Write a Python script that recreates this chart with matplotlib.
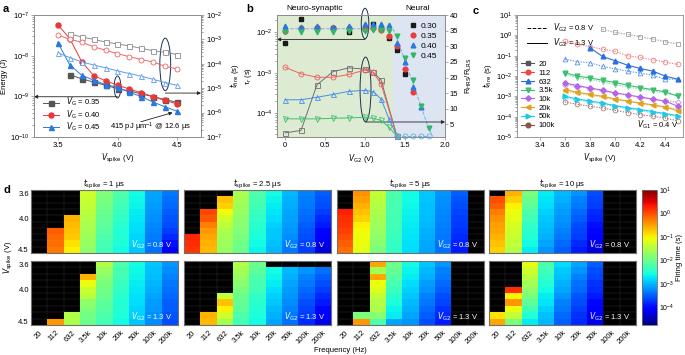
import matplotlib.pyplot as plt
import numpy as np
from matplotlib.colors import LogNorm
from matplotlib.lines import Line2D
from matplotlib.patches import Ellipse

plt.rcParams['font.family'] = ['Liberation Sans', 'DejaVu Sans']
plt.rcParams['font.size'] = 5.5
plt.rcParams['axes.linewidth'] = 0.6
plt.rcParams['axes.edgecolor'] = '#8a8a8a'
plt.rcParams['xtick.major.size'] = 2
plt.rcParams['ytick.major.size'] = 2
plt.rcParams['xtick.minor.size'] = 1.2
plt.rcParams['ytick.minor.size'] = 1.2
plt.rcParams['xtick.major.width'] = 0.5
plt.rcParams['ytick.major.width'] = 0.5
plt.rcParams['xtick.major.pad'] = 1.5
plt.rcParams['ytick.major.pad'] = 1.5
plt.rcParams['xtick.color'] = '#8a8a8a'
plt.rcParams['ytick.color'] = '#8a8a8a'
plt.rcParams['xtick.labelcolor'] = 'black'
plt.rcParams['ytick.labelcolor'] = 'black'
plt.rcParams['mathtext.default'] = 'regular'

# ---- panel a: energy (left) and firing time (right) vs V_spike
a_vg = ['0.35', '0.40', '0.45']
a_x_gray = [3.6, 3.7, 3.8, 3.9, 4.0, 4.1, 4.2, 4.3, 4.4, 4.5]
a_x = [3.5, 3.6, 3.7, 3.8, 3.9, 4.0, 4.1, 4.2, 4.3, 4.4, 4.5]
a_energy_035 = [3.4e-9, 2.7e-9, 2.24e-9, 1.86e-9, 1.55e-9, 1.35e-9, 1.15e-9, 9.8e-10, 8.3e-10, 7.1e-10]
a_energy_040 = [5.75e-8, 2.63e-8, 7.1e-9, 3.24e-9, 2.4e-9, 1.9e-9, 1.5e-9, 1.23e-9, 9.8e-10, 7.9e-10, 6.5e-10]
a_energy_045 = [2.1e-8, 5.9e-9, 3.3e-9, 2.5e-9, 1.95e-9, 1.66e-9, 1.26e-9, 9.8e-10, 7.2e-10, 5.5e-10, 4.3e-10]
a_tfire_035 = [1.66e-3, 1.26e-3, 1.0e-3, 7.8e-4, 6.5e-4, 5.4e-4, 4.3e-4, 3.4e-4, 2.95e-4, 2.4e-4]
a_tfire_040 = [1.5e-3, 1.02e-3, 7.6e-4, 5.0e-4, 3.6e-4, 2.6e-4, 1.95e-4, 1.5e-4, 1.17e-4, 7.9e-5, 6.2e-5]
a_tfire_045 = [2.8e-4, 1.8e-4, 1.2e-4, 8.9e-5, 6.9e-5, 5.1e-5, 4.0e-5, 3.1e-5, 2.3e-5, 1.7e-5, 1.3e-5]

# ---- panel b: tau_r (left, filled) and R_HRS/R_LRS (right, open) vs V_G2
b_vg = ['0.30', '0.35', '0.40', '0.45']
b_x_030 = [0, 0.2, 0.4, 0.6, 0.8, 1.0, 1.1, 1.2, 1.3, 1.4, 1.5]
b_x_035 = [0, 0.2, 0.4, 0.6, 0.8, 1.0, 1.1, 1.2, 1.3, 1.4, 1.5, 1.6]
b_x_040 = [0, 0.2, 0.4, 0.6, 0.8, 1.0, 1.1, 1.2, 1.3, 1.4, 1.5, 1.6, 1.7]
b_x_045 = [0, 0.2, 0.4, 0.6, 0.8, 1.0, 1.1, 1.2, 1.3, 1.4, 1.5, 1.6, 1.7, 1.8]
b_tau_030 = [5.4e-3, 2.1e-2, 1.32e-2, 1.26e-2, 1.05e-2, 1.32e-2, 1.58e-2, 1.26e-2, 7.1e-3, 3.6e-3, 9.5e-4]
b_tau_035 = [1.07e-2, 1.32e-2, 1.32e-2, 1.26e-2, 1.26e-2, 1.2e-2, 1.26e-2, 1.15e-2, 8.3e-3, 4.5e-3, 1.23e-3, 3.4e-4]
b_tau_040 = [1.45e-2, 1.38e-2, 1.45e-2, 1.38e-2, 1.48e-2, 1.66e-2, 1.62e-2, 1.62e-2, 1.51e-2, 5.5e-3, 1.9e-3, 4.4e-4, 1.45e-4]
b_tau_045 = [1.05e-2, 1.0e-2, 1.05e-2, 1.05e-2, 1.07e-2, 1.1e-2, 1.15e-2, 1.15e-2, 1.1e-2, 8.3e-3, 2.4e-3, 6.6e-4, 1.5e-4, 4.3e-5]
b_guide_x = [0, 1.35, 1.4, 1.5, 1.6, 1.7, 1.8, 1.85]
b_guide_tau = [1.23e-2, 1.23e-2, 7e-3, 2e-3, 5.5e-4, 1.5e-4, 4e-5, 2.7e-5]
b_xr = [0, 0.2, 0.4, 0.6, 0.8, 1.0, 1.1, 1.2, 1.4]
b_xr_long = [0, 0.2, 0.4, 0.6, 0.8, 1.0, 1.1, 1.2, 1.3, 1.4]
b_ratio_030 = [2.3, 3.1, 17.7, 21.9, 23.1, 22.7, 21.7, 19.3, 1.2]
b_ratio_035 = [23.3, 21.2, 20.1, 20.1, 21.0, 22.4, 21.7, 18.0, 1.2]
b_ratio_040 = [12.9, 12.9, 13.7, 14.6, 15.6, 15.9, 15.5, 13.2, 6.8, 1.2]
b_ratio_045 = [6.8, 6.8, 6.8, 7.0, 7.1, 7.3, 7.0, 6.3, 4.1, 1.2]
b_tail_x = [1.4, 1.5, 1.6, 1.7, 1.8]
b_tail_ratio = [1.2, 1.2, 1.2, 1.2, 1.2]

# ---- panel c: log10 firing time vs V_spike for input frequencies
c_x = [3.6, 3.7, 3.8, 3.9, 4.0, 4.1, 4.2, 4.3, 4.4, 4.5]
c_freqs = ['20', '112', '632', '3.5k', '10k', '20k', '50k', '100k']
c_20_08 = [0.29, 0.14, 0.05, -0.07, -0.18, -0.32, -0.43]
c_112_08 = [-0.30, -0.43, -0.56, -0.68, -0.79, -1.01, -1.09, -1.20, -1.32, -1.43]
c_632_13 = [-0.61, -1.04, -1.25, -1.47, -1.63, -1.76, -2.01, -2.16]
c_632_08 = [-1.17, -1.29, -1.35, -1.52, -1.65, -1.76, -1.86, -1.96, -2.17, -2.14]
c_3k5_13 = [-1.83, -2.01, -2.09, -2.21, -2.32, -2.45, -2.57, -2.67, -2.78, -3.0]
c_3k5_08 = [-1.91, -2.09, -2.17, -2.29, -2.42, -2.54, -2.63, -2.73, -2.86, -2.95]
c_10k_13 = [-2.34, -2.47, -2.59, -2.70, -2.83, -2.93, -3.03, -3.14, -3.24, -3.49]
c_10k_08 = [-2.42, -2.52, -2.62, -2.73, -2.85, -2.95, -3.05, -3.15, -3.22, -3.28]
c_20k_13 = [-2.67, -2.80, -2.90, -3.00, -3.13, -3.23, -3.33, -3.42, -3.52, -3.72]
c_20k_08 = [-2.75, -2.85, -2.95, -3.05, -3.16, -3.26, -3.36, -3.45, -3.55, -3.60]
c_50k_13 = [-3.0, -3.13, -3.23, -3.33, -3.46, -3.56, -3.65, -3.75, -3.85, -3.95]
c_50k_08 = [-3.08, -3.18, -3.28, -3.38, -3.5, -3.6, -3.7, -3.8, -3.9, -4.0]
c_100k_08 = [-3.28, -3.39, -3.49, -3.57, -3.69, -3.80, -3.90, -3.98, -4.07, -4.21]

# ---- panel d: log10 firing time maps, rows V_spike 3.6..4.5, listed per frequency column
N = np.nan
d_vspike = [3.6, 3.7, 3.8, 3.9, 4.0, 4.1, 4.2, 4.3, 4.4, 4.5]
d_freq_labels = ['20', '112', '632', '3.5k', '10k', '20k', '50k', '100k', '200k']
d_tspike = ['1', '2.5', '5', '10']
d_1us_08 = [
    [N] * 10,
    [N, N, N, N, N, N, -0.1, -0.15, -0.2, -0.25],
    [N, N, N, N, -0.6, -0.65, -0.7, -0.75, -0.9, -1.0],
    [-1.3, -1.35, -1.4, -1.45, -1.5, -1.55, -1.6, -1.65, -1.7, -1.75],
    [-1.85, -1.9, -1.95, -2.0, -2.05, -2.1, -2.15, -2.2, -2.25, -2.3],
    [-2.2, -2.25, -2.3, -2.35, -2.4, -2.45, -2.5, -2.5, -2.55, -2.6],
    [-2.6, -2.63, -2.66, -2.7, -2.73, -2.76, -2.8, -2.83, -2.86, -2.9],
    [-3.1, -3.13, -3.16, -3.2, -3.23, -3.26, -3.3, -3.33, -3.36, -3.4],
    [-3.35, -3.4, -3.45, -3.5, -3.55, -3.6, -3.7, -3.8, -3.95, -4.15],
]
d_2p5us_08 = [
    [N, N, N, N, N, N, N, 0.25, 0.2, 0.15],
    [N, N, N, 0.05, -0.05, -0.3, -0.45, -0.55, -0.6, -0.65],
    [N, -0.7, -0.8, -1.05, -1.3, -1.45, -1.55, -1.6, -1.65, -1.7],
    [-1.55, -1.6, -1.65, -1.7, -1.75, -1.8, -1.85, -1.9, -1.95, -2.0],
    [-2.2, -2.25, -2.3, -2.35, -2.4, -2.45, -2.5, -2.55, -2.6, -2.65],
    [-2.6, -2.65, -2.7, -2.75, -2.8, -2.85, -2.9, -2.9, -2.95, -3.0],
    [-3.0, -3.03, -3.06, -3.1, -3.13, -3.16, -3.2, -3.25, -3.3, -3.35],
    [-3.3, -3.33, -3.36, -3.4, -3.45, -3.5, -3.55, -3.6, -3.65, -3.7],
    [-3.5, -3.55, -3.6, -3.7, -3.8, -3.9, -4.0, -4.1, -4.2, -4.3],
]
d_5us_08 = [
    [N, N, N, 0.3, 0.2, 0.15, 0.1, 0.0, -0.1, -0.2],
    [-0.4, -0.5, -0.6, -0.7, -0.8, -1.0, -1.05, -1.1, -1.1, -1.15],
    [-1.4, -1.45, -1.5, -1.55, -1.6, -1.65, -1.7, -1.75, -1.8, -1.9],
    [-2.2, -2.22, -2.24, -2.26, -2.28, -2.3, -2.32, -2.35, -2.38, -2.4],
    [-2.6, -2.62, -2.64, -2.66, -2.68, -2.7, -2.72, -2.75, -2.78, -2.8],
    [-2.9, -2.92, -2.94, -2.96, -2.98, -3.0, -3.03, -3.06, -3.08, -3.1],
    [-3.2, -3.22, -3.24, -3.26, -3.28, -3.3, -3.33, -3.36, -3.38, -3.4],
    [-3.5, -3.55, -3.6, -3.64, -3.68, -3.72, -3.76, -3.8, -3.85, -3.9],
    [N] * 10,
]
d_10us_08 = [
    [N, 0.0, -0.1, -0.3, -0.4, -0.5, -0.55, -0.6, -0.7, -0.8],
    [-0.6, -0.8, -1.0, -1.1, -1.15, -1.25, -1.3, -1.35, -1.4, -1.5],
    [-1.9, -2.0, -2.1, -2.2, -2.3, -2.4, -2.45, -2.5, -2.6, -2.7],
    [-2.7, -2.75, -2.8, -2.85, -2.9, -2.95, -3.0, -3.05, -3.1, -3.2],
    [-3.0, -3.05, -3.1, -3.15, -3.2, -3.25, -3.3, -3.35, -3.45, -3.5],
    [-3.2, -3.3, -3.35, -3.45, -3.5, -3.6, -3.65, -3.7, -3.8, -3.9],
    [-3.6, -3.65, -3.7, -3.8, -3.85, -3.95, -4.0, -4.1, -4.2, -4.3],
    [N] * 10,
    [N] * 10,
]
d_1us_13 = [
    [N] * 10,
    [N, N, N, N, N, N, N, N, N, -0.45],
    [N, N, N, N, N, N, N, N, -1.5, -1.55],
    [N, N, -0.6, -1.1, -1.35, -1.45, -1.75, -1.85, -1.95, -2.0],
    [-1.5, -1.7, -1.8, -1.9, -1.95, -2.0, -2.1, -2.15, -2.2, -2.3],
    [-2.2, -2.25, -2.3, -2.35, -2.4, -2.45, -2.5, -2.5, -2.55, -2.6],
    [-2.6, -2.63, -2.66, -2.7, -2.73, -2.76, -2.8, -2.83, -2.86, -2.9],
    [-2.9, -2.94, -2.98, -3.02, -3.06, -3.1, -3.14, -3.18, -3.22, -3.25],
    [-3.2, -3.25, -3.3, -3.35, -3.4, -3.45, -3.5, -3.5, -3.55, -3.6],
]
d_2p5us_13 = [
    [N] * 10,
    [N, N, N, N, N, N, N, N, -0.6, -0.65],
    [N, N, N, N, N, -1.4, -0.7, -1.0, -1.3, -1.6],
    [-1.5, -1.6, -1.7, -1.8, -1.9, -2.0, -2.05, -2.1, -2.2, -2.3],
    [-2.0, -2.1, -2.2, -2.25, -2.3, -2.4, -2.45, -2.5, -2.55, -2.6],
    [N, -2.6, -2.65, -2.7, -2.8, -2.85, -2.9, -3.0, -3.05, -3.1],
    [N, -3.0, -3.05, -3.1, -3.15, -3.2, -3.25, -3.3, -3.35, -3.4],
    [N, -3.2, -3.3, -3.35, -3.45, -3.5, -3.6, -3.65, -3.7, -3.8],
    [N, -3.4, -3.5, -3.6, -3.7, -3.8, -3.9, -4.0, -4.1, -4.2],
]
d_5us_13 = [
    [N] * 10,
    [N, N, N, N, N, N, N, N, -1.9, -0.45],
    [-0.55, -1.6, -0.55, -1.1, -1.2, -1.4, -1.5, -1.55, -1.8, -2.2],
    [-1.95, -2.05, -2.15, -2.25, -2.35, -2.45, -2.55, -2.65, -2.7, -3.1],
    [-2.6, -2.65, -2.7, -2.8, -2.85, -2.9, -3.0, -3.05, -3.1, -3.2],
    [-2.9, -3.0, -3.05, -3.15, -3.2, -3.3, -3.35, -3.45, -3.5, -3.6],
    [-3.2, -3.3, -3.35, -3.45, -3.5, -3.6, -3.65, -3.75, -3.8, -3.9],
    [N] * 10,
    [N] * 10,
]
d_10us_13 = [
    [N, N, N, N, N, N, N, N, -0.9, -0.55],
    [N, N, N, N, 0.2, -1.0, -0.45, -1.1, -1.4, -1.9],
    [-1.15, -1.3, -1.45, -1.6, -1.75, -1.9, -2.1, -2.3, -2.5, -2.7],
    [-2.2, -2.3, -2.4, -2.5, -2.6, -2.7, -2.75, -2.85, -2.95, -3.0],
    [-2.8, -2.9, -2.95, -3.05, -3.1, -3.2, -3.3, -3.35, -3.45, -3.5],
    [-3.1, -3.2, -3.3, -3.4, -3.45, -3.55, -3.6, -3.7, -3.75, -3.8],
    [-3.5, -3.6, -3.65, -3.75, -3.8, -3.9, -4.0, -4.05, -4.15, -4.2],
    [N] * 10,
    [N] * 10,
]


def px(l, t, r, b):
    return [l / 685, 1 - b / 355, (r - l) / 685, (b - t) / 355]


def V(sub):
    return r'$\mathit{V}_{\rm ' + sub + '}$'


fig = plt.figure(figsize=(6.85, 3.55), dpi=100)

# ================= a =================
ax = fig.add_axes(px(34, 15, 201, 137))
ax2 = ax.twinx()
ax.set_yscale('log')
ax2.set_yscale('log')
ax.set_xlim(3.3, 4.7)
ax.set_ylim(1e-10, 1e-7)
ax2.set_ylim(1e-7, 1e-2)
a_cols = ['#555555', '#e8393a', '#2a78e4']
a_open = ['#8c8c8c', '#f06464', '#5c9cf0']
mk = ['s', 'o', '^']
a_en = [(a_x_gray, a_energy_035), (a_x, a_energy_040), (a_x, a_energy_045)]
a_tf = [(a_x_gray, a_tfire_035), (a_x, a_tfire_040), (a_x, a_tfire_045)]
for i in range(3):
    ax2.plot(*a_tf[i], marker=mk[i], color=a_open[i], mfc='white', mec=a_open[i],
             ms=3.6, mew=0.6, lw=0.7)
    ax.plot(*a_en[i], marker=mk[i], color=a_cols[i], ms=3.6, lw=0.7,
            label=V('G') + ' = ' + a_vg[i])
ax.set_xticks([3.5, 4.0, 4.5])
ax.set_xticklabels(['3.5', '4.0', '4.5'])
ax.set_xlabel(V('spike') + ' (V)', labelpad=2)
ax.set_ylabel('Energy (J)', labelpad=1)
ax2.set_ylabel(r'$\mathit{t}_{\rm fire}$ (s)', labelpad=4)
ax.legend(loc='lower left', bbox_to_anchor=(0.02, -0.01), frameon=False,
          handlelength=2.2, labelspacing=0.0, borderpad=0.2, fontsize=5.5)
ax.add_patch(Ellipse((0.5, 0.41), 0.04, 0.18, transform=ax.transAxes,
                     fill=False, ec='#1f3050', lw=0.7))
ax.add_patch(Ellipse((0.786, 0.595), 0.065, 0.43, transform=ax.transAxes,
                     fill=False, ec='#1f3050', lw=0.7))
arr = dict(arrowstyle='-|>', lw=0.6, color='#222222', mutation_scale=5,
           shrinkA=0, shrinkB=0)
ax.annotate('', xy=(0.0, 0.33), xytext=(0.5, 0.33), xycoords='axes fraction',
            arrowprops=arr)
ax.annotate('', xy=(1.0, 0.36), xytext=(0.786, 0.36), xycoords='axes fraction',
            arrowprops=arr)
ax.annotate('', xy=(0.83, 0.2), xytext=(0.64, 0.125), xycoords='axes fraction',
            arrowprops=arr)
ax.text(0.70, 0.075, r'415 pJ µm$^{-1}$ @ 12.6 µs', transform=ax.transAxes,
        ha='center', va='center', fontsize=5.5)

# ================= b =================
bx = fig.add_axes(px(277, 15, 445, 137))
bx2 = bx.twinx()
bx.set_xlim(-0.1, 2.0)
bx.set_yscale('log')
bx.set_ylim(2.6e-5, 2.7e-2)
bx2.set_ylim(1, 40)
bx.axvspan(-0.1, 1.35, color='#dcebd2', lw=0, zorder=0)
bx.axvspan(1.35, 2.0, color='#dde5f3', lw=0, zorder=0)
b_cols = ['#1a1a1a', '#ec3c3c', '#2a78e4', '#30b868']
b_open = ['#707070', '#f06060', '#4a8ee8', '#40c070']
b_mk = ['s', 'o', '^', 'v']
bx.plot(b_guide_x, b_guide_tau, ls='--', color='#7ab2e6', lw=0.7, zorder=1)
b_tau = [(b_x_030, b_tau_030), (b_x_035, b_tau_035), (b_x_040, b_tau_040), (b_x_045, b_tau_045)]
for i in range(4):
    bx.plot(*b_tau[i], ls='none', marker=b_mk[i], color=b_cols[i], ms=3.4,
            label=b_vg[i], zorder=3)
b_rat = [(b_xr, b_ratio_030), (b_xr, b_ratio_035), (b_xr_long, b_ratio_040), (b_xr_long, b_ratio_045)]
for i in range(4):
    bx2.plot(*b_rat[i], marker=b_mk[i], color=b_open[i], mfc='none', mec=b_open[i],
             ms=3.6, mew=0.6, lw=0.7, clip_on=False)
bx2.plot(b_tail_x, b_tail_ratio, ls='--', marker='o', color='#6ab0e0', mfc='none',
         ms=3.6, mew=0.6, lw=0.7, clip_on=False)
bx.set_xticks([0, 0.5, 1.0, 1.5, 2.0])
bx.set_xticklabels(['0', '0.5', '1.0', '1.5', '2.0'])
bx.set_xlabel(V('G2') + ' (V)', labelpad=2)
bx.set_ylabel(r'$\tau_{\rm r}$ (s)', labelpad=1)
bx2.set_yticks([5, 10, 15, 20, 25, 30, 35, 40])
bx2.set_ylabel(r'R$_{\rm HRS}$/R$_{\rm LRS}$', labelpad=4)
bx.legend(loc='upper right', bbox_to_anchor=(1.0, 1.0), frameon=False,
          handlelength=0.8, handletextpad=0.5, labelspacing=0.25, fontsize=6)
bx.add_patch(Ellipse((0.524, 0.93), 0.045, 0.25, transform=bx.transAxes,
                     fill=False, ec='#1f3050', lw=0.7, clip_on=False))
bx.add_patch(Ellipse((0.527, 0.39), 0.065, 0.53, transform=bx.transAxes,
                     fill=False, ec='#1f3050', lw=0.7))
bx.annotate('', xy=(0.0, 0.80), xytext=(0.524, 0.80), xycoords='axes fraction',
            arrowprops=arr)
bx.annotate('', xy=(1.0, 0.123), xytext=(0.527, 0.123), xycoords='axes fraction',
            arrowprops=arr)
fig.text(315 / 685, 1 - 8 / 355, 'Neuro-synaptic', ha='center', va='center', fontsize=6)
fig.text(418 / 685, 1 - 8 / 355, 'Neural', ha='center', va='center', fontsize=6)

# ================= c =================
cx = fig.add_axes(px(517, 15, 683, 137))
cx.set_yscale('log')
cx.set_xlim(3.22, 4.54)
cx.set_ylim(1e-5, 1e1)
c_cols = ['#555555', '#f04545', '#2a6fe0', '#3cc070', '#b565e6', '#e0a21c', '#1ec8e6', '#8c5545']
c_open = ['#a0a0a0', '#f28080', '#5c92ea', '#7ad69e', '#c994ee', '#e8bf60', '#6ad8ee', '#a88078']
c_mk = ['s', 'o', '^', 'v', 'D', '<', '>', 'o']
c_08 = [(c_x[3:], c_20_08), (c_x, c_112_08), (c_x, c_632_08), (c_x, c_3k5_08),
        (c_x, c_10k_08), (c_x, c_20k_08), (c_x, c_50k_08), (c_x, c_100k_08)]
c_13 = {2: (c_x[2:], c_632_13), 3: (c_x, c_3k5_13), 4: (c_x, c_10k_13),
        5: (c_x, c_20k_13), 6: (c_x, c_50k_13)}
for i in range(8):
    xs, ys = c_08[i]
    cx.plot(xs, 10 ** np.array(ys), ls=(0, (1.2, 1.2)), marker=c_mk[i], color=c_open[i],
            mfc='none', mec=c_open[i], ms=3.4 if c_mk[i] != 'D' else 2.8, mew=0.6, lw=0.8)
for i, (xs, ys) in c_13.items():
    cx.plot(xs, 10 ** np.array(ys), marker=c_mk[i], color=c_cols[i],
            ms=3.4 if c_mk[i] != 'D' else 2.8, lw=0.8)
cx.set_xticks([3.4, 3.6, 3.8, 4.0, 4.2, 4.4])
cx.set_xticklabels(['3.4', '3.6', '3.8', '4.0', '4.2', '4.4'])
cx.set_yticks([1e-5, 1e-4, 1e-3, 1e-2, 1e-1, 1e0, 1e1])
cx.set_xlabel(V('spike') + ' (V)', labelpad=2)
cx.set_ylabel(r'$\mathit{t}_{\rm fire}$ (s)', labelpad=1)
ls_handles = [Line2D([], [], color='k', ls='--', lw=0.7),
              Line2D([], [], color='k', ls='-', lw=0.7)]
leg1 = cx.legend(ls_handles, [V('G2') + ' = 0.8 V', V('G2') + ' = 1.3 V'],
                 loc='upper left', bbox_to_anchor=(0.02, 1.0), frameon=False,
                 handlelength=2.6, labelspacing=0.3, fontsize=5.5)
cx.add_artist(leg1)
f_handles = [Line2D([], [], color=c_cols[i], marker=c_mk[i],
                    ms=3.4 if c_mk[i] != 'D' else 2.8, lw=0.8) for i in range(8)]
cx.legend(f_handles, c_freqs, loc='lower left', bbox_to_anchor=(-0.01, 0.02),
          frameon=False, handlelength=1.8, labelspacing=0.18, borderpad=0.2,
          handletextpad=0.5, fontsize=5.5)
cx.text(0.97, 0.05, V('G1') + ' = 0.4 V', transform=cx.transAxes, ha='right',
        va='bottom', fontsize=5.5)

# ================= d =================
cmap = plt.get_cmap('jet').copy()
cmap.set_bad((0, 0, 0, 0))
norm = LogNorm(vmin=10 ** -4.76, vmax=10)
d_rows = [[d_1us_08, d_2p5us_08, d_5us_08, d_10us_08],
          [d_1us_13, d_2p5us_13, d_5us_13, d_10us_13]]
d_vg2 = ['0.8', '1.3']
col_left = [31, 184, 337, 489]
row_tb = [(190, 253), (261, 325)]
mesh = None
for r in range(2):
    for c in range(4):
        t, b = row_tb[r]
        hx = fig.add_axes(px(col_left[c], t, col_left[c] + 147, b))
        hx.set_facecolor('black')
        vals = np.ma.masked_invalid(10 ** np.array(d_rows[r][c]).T)
        hx.hlines(np.arange(1, 10), 0, 9, color='#2e2e2e', lw=0.35, zorder=0.5)
        hx.vlines(np.arange(1, 9), 0, 10, color='#2e2e2e', lw=0.35, zorder=0.5)
        mesh = hx.pcolormesh(np.arange(10), np.arange(11), vals, cmap=cmap, norm=norm,
                             zorder=1)
        hx.set_xlim(0, 9)
        hx.set_ylim(10, 0)
        for s in hx.spines.values():
            s.set_color('#707070')
            s.set_linewidth(0.8)
        hx.tick_params(length=0)
        if c == 0:
            hx.set_yticks([0.5, 4.5, 9.5])
            hx.set_yticklabels(['3.6', '4.0', '4.5'])
        else:
            hx.set_yticks([])
        if r == 1:
            hx.set_xticks(np.arange(9) + 0.5)
            hx.set_xticklabels(d_freq_labels, rotation=45, ha='right',
                               rotation_mode='anchor')
            hx.tick_params(axis='x', pad=3)
        else:
            hx.set_xticks([])
            hx.set_title(r'$\mathit{t}_{\rm spike}$ = ' + d_tspike[c] + ' µs',
                         fontsize=5.5, pad=1.5)
        hx.text(0.96, 0.13, V('G2') + ' = ' + d_vg2[r] + ' V', transform=hx.transAxes,
                ha='right', va='center', color='white', fontsize=5.5, zorder=5)

cax = fig.add_axes(px(642, 190, 657, 325))
cb = fig.colorbar(mesh, cax=cax)
cb.set_ticks([1e1, 1e0, 1e-1, 1e-2, 1e-3, 1e-4])
cb.minorticks_off()
cb.outline.set_linewidth(0.6)
cb.outline.set_edgecolor('#707070')
cax.tick_params(length=0, pad=1.5, labelsize=5)
cb.set_label('Firing time (s)', labelpad=1, fontsize=5.5)

fig.text(8 / 685, 1 - 257 / 355, V('spike') + ' (V)', rotation=90, ha='center',
         va='center')
fig.text(340 / 685, 1 - 350 / 355, 'Frequency (Hz)', ha='center', va='center')

for lab, x, y in [('a', 3, 9), ('b', 246, 9), ('c', 473, 11), ('d', 3, 190)]:
    fig.text(x / 685, 1 - y / 355, lab, fontsize=8, fontweight='bold', ha='left',
             va='center')

fig.savefig('out.png', dpi=100)
